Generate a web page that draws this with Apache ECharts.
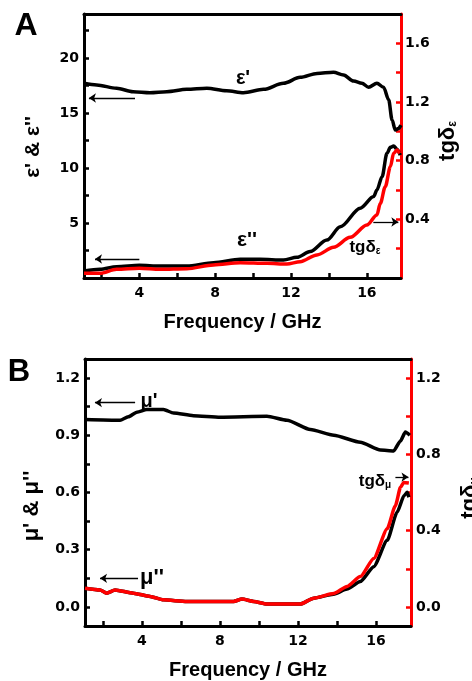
<!DOCTYPE html>
<html><head><meta charset="utf-8">
<script src="https://cdn.jsdelivr.net/npm/echarts@6/dist/echarts.min.js"></script>
<style>html,body{margin:0;padding:0;background:#fff}#c{width:472px;height:681px}</style>
</head><body><div id="c"></div>
<script>
// ---------- Panel A data (frequency in GHz) ----------
const epsRealFreq = [1.08, 1.75, 2.8, 3.67, 4.56, 5.45, 6.5, 7.56, 8.6, 9.49, 10.55, 11.6, 12.48, 13.37, 14.24, 14.77, 15.3, 15.74, 16.09, 16.53, 16.88, 17.15, 17.33, 17.5, 17.67, 17.8];
const epsReal     = [17.7, 17.55, 17.25, 16.94, 16.85, 16.94, 17.15, 17.25, 17.03, 16.85, 17.15, 17.7, 18.24, 18.6, 18.7, 18.45, 17.9, 17.7, 17.34, 17.7, 17.34, 16.2, 14.36, 13.45, 13.6, 13.9];

const epsImagFreq = [1.08, 1.92, 2.8, 4.0, 5.09, 6.5, 7.91, 9.32, 10.37, 11.6, 12.31, 13.01, 13.89, 14.6, 15.65, 16.36, 16.53, 16.8, 17.06, 17.24, 17.41, 17.59, 17.76];
const epsImag     = [0.64, 0.79, 1.03, 1.15, 1.09, 1.09, 1.39, 1.7, 1.7, 1.64, 1.88, 2.4, 3.45, 4.66, 6.35, 7.4, 8.0, 9.2, 11.33, 11.88, 12.0, 11.7, 11.18];

const tanEpsFreq  = [1.08, 1.92, 2.8, 4.0, 5.09, 6.5, 7.91, 9.32, 10.73, 11.78, 12.48, 13.37, 14.24, 15.12, 16.0, 16.53, 16.71, 16.97, 17.24, 17.41, 17.59, 17.73];
const tanEps      = [0.032, 0.032, 0.059, 0.066, 0.059, 0.063, 0.089, 0.104, 0.1, 0.095, 0.111, 0.157, 0.209, 0.277, 0.361, 0.43, 0.509, 0.623, 0.759, 0.85, 0.873, 0.85];

// ---------- Panel B data ----------
const muRealFreq  = [1.08, 2.88, 3.3, 3.74, 4.25, 5.1, 5.62, 6.64, 8.01, 10.41, 11.44, 12.64, 13.84, 15.2, 16.23, 16.91, 17.26, 17.51, 17.74];
const muReal      = [0.983, 0.979, 0.997, 1.021, 1.035, 1.035, 1.017, 1.003, 0.995, 1.0, 0.979, 0.93, 0.9, 0.864, 0.823, 0.818, 0.87, 0.917, 0.9];

const muImagFreq  = [1.08, 1.85, 2.19, 2.62, 3.56, 4.42, 5.1, 6.3, 8.7, 9.13, 9.73, 10.41, 12.12, 12.81, 13.83, 14.52, 15.2, 15.89, 16.58, 17.09, 17.44, 17.61, 17.69];
const muImag      = [0.098, 0.089, 0.072, 0.089, 0.072, 0.055, 0.037, 0.029, 0.029, 0.041, 0.029, 0.015, 0.015, 0.046, 0.067, 0.094, 0.133, 0.211, 0.349, 0.497, 0.583, 0.601, 0.575];

const tanMuFreq   = [1.08, 1.85, 2.19, 2.62, 3.56, 4.42, 5.1, 6.3, 8.7, 9.13, 9.73, 10.41, 12.12, 12.81, 13.83, 14.52, 15.2, 15.89, 16.58, 17.0, 17.26, 17.43, 17.69];
const tanMu       = [0.098, 0.089, 0.072, 0.089, 0.072, 0.055, 0.037, 0.029, 0.029, 0.041, 0.029, 0.015, 0.015, 0.046, 0.07, 0.107, 0.159, 0.254, 0.41, 0.531, 0.627, 0.653, 0.65];

// ---------- Axis ticks / labels ----------
const freqMin = 1.08, freqMax = 17.8;
const freqTicks  = [2, 4, 6, 8, 10, 12, 14, 16];
const freqLabels = [4, 8, 12, 16];
const epsTicks   = [2.5, 5, 7.5, 10, 12.5, 15, 17.5, 20, 22.5];
const epsLabels  = [5, 10, 15, 20];
const tanETicks  = [0.2, 0.4, 0.6, 0.8, 1.0, 1.2, 1.4, 1.6];
const tanELabels = [0.4, 0.8, 1.2, 1.6];
const muTicks    = [0, 0.15, 0.3, 0.45, 0.6, 0.75, 0.9, 1.05, 1.2];
const muLabels   = [0, 0.3, 0.6, 0.9, 1.2];
const tanMTicks  = [0, 0.2, 0.4, 0.6, 0.8, 1.0, 1.2];
const tanMLabels = [0, 0.4, 0.8, 1.2];

// ---------- Annotation arrows (data coordinates) ----------
const arrowEpsReal = [[3.77, 16.36], [1.34, 16.36]];
const arrowEpsImag = [[4.0, 1.73], [1.66, 1.73]];
const arrowTanEps  = [[16.34, 0.382], [17.66, 0.382]];
const arrowMuReal  = [[3.65, 1.071], [1.59, 1.071]];
const arrowMuImag  = [[3.8, 0.15], [1.85, 0.15]];
const arrowTanMu   = [[17.0, 0.681], [17.67, 0.681]];

const FONT = '"Liberation Sans", Arial, sans-serif';
const TICKFONT = '"DejaVu Sans", sans-serif';
const pairs = (xs, ys) => xs.map((x, i) => [x, ys[i]]);
const tickFont = {fontSize: 14, fontWeight: 'bold', color: '#000', fontFamily: TICKFONT};

function xBottom(gi) {
  return {
    type: 'value', gridIndex: gi, position: 'bottom', min: freqMin, max: freqMax,
    axisLine: {show: true, onZero: false, lineStyle: {color: '#000', width: 3}},
    axisTick: {show: true, inside: true, length: 5, lineStyle: {color: '#000', width: 2.5}, customValues: freqTicks},
    axisLabel: Object.assign({customValues: freqLabels, margin: 8}, tickFont),
    splitLine: {show: false},
    name: 'Frequency / GHz', nameLocation: 'middle', nameGap: 34,
    nameTextStyle: {fontSize: 20, fontWeight: 'bold', color: '#000', fontFamily: FONT}
  };
}
function xTop(gi) {
  return {
    type: 'value', gridIndex: gi, position: 'top', min: freqMin, max: freqMax,
    axisLine: {show: true, onZero: false, lineStyle: {color: '#000', width: 3}},
    axisTick: {show: false}, axisLabel: {show: false}, splitLine: {show: false}
  };
}
function yAx(gi, pos, min, max, ticks, labels, color, fmt, margin) {
  return {
    type: 'value', gridIndex: gi, position: pos, min: min, max: max,
    axisLine: {show: true, onZero: false, lineStyle: {color: color, width: 3}},
    axisTick: {show: true, inside: true, length: 5, lineStyle: {color: color, width: 2.5}, customValues: ticks},
    axisLabel: Object.assign({customValues: labels, margin: margin, formatter: fmt}, tickFont),
    splitLine: {show: false}
  };
}
function arrow(a) {
  return {
    silent: true, symbol: ['none', 'arrow'], symbolSize: 7, animation: false,
    label: {show: false}, lineStyle: {color: '#000', width: 1.3, type: 'solid'},
    emphasis: {disabled: true},
    data: [[{coord: a[0]}, {coord: a[1]}]]
  };
}
function line(xi, yi, data, color, extra) {
  return Object.assign({
    type: 'line', xAxisIndex: xi, yAxisIndex: yi, data: data, showSymbol: false,
    smooth: 0.3, smoothMonotone: 'x', lineStyle: {color: color, width: 3.5}, itemStyle: {color: color},
    animation: false, silent: true
  }, extra || {});
}
const f0 = v => String(v);
const f1 = v => Number(v).toFixed(1);

function txt(x, y, text, size, rot, rich) {
  return {
    type: 'text', x: x, y: y, rotation: rot || 0, silent: true,
    style: {text: text, fontSize: size, fontWeight: 'bold', fontFamily: FONT, fill: '#000',
            textAlign: 'center', textVerticalAlign: 'middle', rich: rich || {}}
  };
}
const subRich = {s: {fontSize: 10, fontWeight: 'bold', fontFamily: FONT, fill: '#000', verticalAlign: 'bottom', padding: [8, 0, 0, 0]}};
const subRichBig = {s: {fontSize: 12, fontWeight: 'bold', fontFamily: FONT, fill: '#000', verticalAlign: 'bottom', padding: [9, 0, 0, 0]}};

const option = {
  backgroundColor: '#fff',
  animation: false,
  grid: [
    {left: 84, top: 14, width: 317, height: 264},
    {left: 85, top: 359, width: 326, height: 269}
  ],
  xAxis: [xBottom(0), xTop(0), xBottom(1), xTop(1)],
  yAxis: [
    yAx(0, 'left', 0, 24, epsTicks, epsLabels, '#000', f0, 5),
    yAx(0, 'right', 0, 1.8, tanETicks, tanELabels, '#ff0000', f1, 4),
    yAx(1, 'left', -0.1, 1.3, muTicks, muLabels, '#000', f1, 5),
    yAx(1, 'right', -0.1, 1.3, tanMTicks, tanMLabels, '#ff0000', f1, 5)
  ],
  series: [
    line(0, 0, pairs(epsRealFreq, epsReal), '#000', {markLine: arrow(arrowEpsReal)}),
    line(0, 0, pairs(epsImagFreq, epsImag), '#000', {markLine: arrow(arrowEpsImag)}),
    line(0, 1, pairs(tanEpsFreq, tanEps), '#ff0000', {markLine: arrow(arrowTanEps)}),
    line(2, 2, pairs(muRealFreq, muReal), '#000', {smooth: 0.2, markLine: arrow(arrowMuReal)}),
    line(2, 2, pairs(muImagFreq, muImag), '#000', {smooth: 0.2, markLine: arrow(arrowMuImag)}),
    line(2, 3, pairs(tanMuFreq, tanMu), '#ff0000', {smooth: 0.2, markLine: arrow(arrowTanMu)})
  ],
  graphic: [
    txt(26, 26, 'A', 32),
    txt(19, 372, 'B', 31),
    txt(243, 78, "ε'", 20),
    txt(247, 240, "ε''", 21),
    txt(365, 247, 'tgδ{s|ε}', 17, 0, subRich),
    txt(149, 401, "μ'", 20),
    txt(152, 578, "μ''", 22),
    txt(375, 481, 'tgδ{s|μ}', 17, 0, subRich),
    txt(33, 147, "ε' & ε''", 21, Math.PI / 2),
    txt(32, 506, "μ' & μ''", 22, Math.PI / 2),
    txt(448, 141, 'tgδ{s|ε}', 22, Math.PI / 2, subRichBig),
    txt(470, 498, 'tgδ{s|μ}', 22, Math.PI / 2, subRichBig)
  ]
};
const chart = echarts.init(document.getElementById('c'), null, {renderer: 'canvas'});
chart.setOption(option);
</script>
</body></html>
